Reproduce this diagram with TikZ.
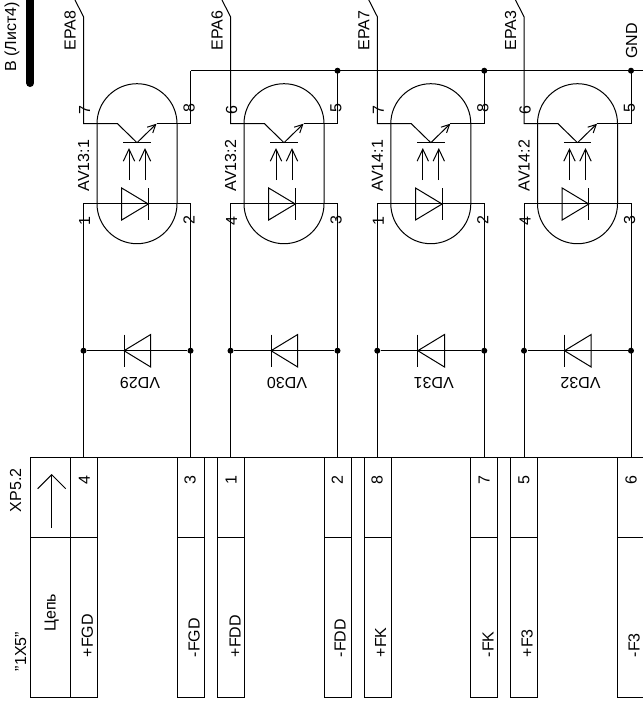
\documentclass[tikz,border=0pt]{standalone}
\usepackage{fontspec}
\setmainfont{Liberation Sans}
\usetikzlibrary{arrows.meta}
\tikzset{
    wire/.style={line width=0.75pt},
    junction/.style={circle,fill=black,inner sep=0pt,minimum size=4.5pt},
    txt/.style={inner sep=0pt,font=\fontsize{12}{12}\selectfont},
    vtxt/.style={txt,rotate=90},
    vlabel/.style={vtxt,anchor=west},
    lighttip/.style={-{Straight Barb[length=9pt,width=8.5pt,line width=0.75pt]}},
    emittip/.style={-{Straight Barb[length=6pt,width=6pt,line width=0.75pt]}}
}
\begin{document}
\begin{tikzpicture}[x=0.75pt,y=-0.75pt,wire]
            \useasboundingbox (0,0) rectangle (643,704);
            \clip (0,0) rectangle (643,704);
            \foreach \u/\xl/\av/\epa/\pa/\pb/\pc/\pd/\vd in {1/83.5/AV13:1/EPA8/7/8/1/2/VD29,2/230.5/AV13:2/EPA6/6/5/4/3/VD30,3/377.3/AV14:1/EPA7/7/8/1/2/VD31,4/524/AV14:2/EPA3/6/5/4/3/VD32}{
                \begin{scope}[shift={(\xl,0)}]
                    \coordinate (col\u) at (0,123.7);
                    \coordinate (emi\u) at (107,123.7);
                    \coordinate (an\u) at (0,203.7);
                    \coordinate (cat\u) at (107,203.7);
                    \coordinate (in\u) at (0,457.3);
                    \coordinate (out\u) at (107,457.3);
                    \coordinate (bus\u) at (107,70.7);
                    \coordinate (top\u) at (0,16.7);
                    \coordinate (end\u) at (-8.5,0);
                    \node[junction](vda\u) at (0,350.7){};
                    \node[junction](vdb\u) at (107,350.7){};
                    \draw (13.5,123.7) arc (180:360:40) -- (93.5,203.7) arc (0:180:40) -- cycle;
                    \draw (end\u) -- (top\u) -- (col\u) -- (34,123.7) -- (53.5,142.7);
                    \draw[emittip] (53.5,142.7) -- (73,123.7);
                    \draw (73,123.7) -- (emi\u) -- (bus\u);
                    \draw (39.8,142.7) -- (67.2,142.7);
                    \draw[lighttip] (45.5,180) -- (45.5,148);
                    \draw[lighttip] (61.5,180) -- (61.5,148);
                    \draw (in\u) -- (an\u) -- (cat\u) -- (out\u);
                    \draw (38.2,188) -- (64.8,204) -- (38.2,220) -- cycle;
                    \draw (64.8,188) -- (64.8,220);
                    \draw (vda\u) -- (vdb\u);
                    \draw (40.5,334.5) -- (40.5,367);
                    \draw (40.5,350.7) -- (67.2,334.5) -- (67.2,367) -- cycle;
                    \node[vlabel](epa\u) at (-13.5,50.7){\epa};
                    \node[vlabel](av\u) at (0,191.7){\av};
                    \node[vtxt](pa\u) at (1,110){\pa};
                    \node[vtxt](pb\u) at (105.5,108){\pb};
                    \node[vtxt](pc\u) at (1,221){\pc};
                    \node[vtxt](pd\u) at (105.5,220){\pd};
                    \node[txt,rotate=180](vd\u) at (56.5,382.7){\vd};
                \end{scope}
            }
            \draw (bus1) -- (643,70.7);
            \foreach \u in {2,3,4}{
                \node[junction](dot\u) at (bus\u){};
            }
            \node[vlabel](gnd) at (631.7,59){GND};
            \draw[line width=6pt,line cap=round] (30.3,-5) -- (30.3,83);
            \node[vlabel](sheet) at (12,72){В (Лист4)};
            \draw (30.5,457.3) -- (643,457.3);
            \draw (30.5,457.3) -- (30.5,697.7) -- (70.5,697.7);
            \draw (30.5,537.7) -- (70.5,537.7);
            \draw[-{Straight Barb[length=10.5pt,width=21pt,line width=0.75pt]}] (51.7,527.7) -- (51.7,474);
            \node[vlabel](xp) at (15.7,512.7){XP5.2};
            \node[vlabel](socket) at (20.7,671.7){"1X5"};
            \node[vlabel](chain) at (51.7,632){Цепь};
            \foreach \cx/\xp/\pin/\sig/\xs in {70.5/84.3/4/+FGD/87.3,177/190/3/-FGD/194,217/231/1/+FDD/235,324/337.3/2/-FDD/340,364/377/8/+FK/380.7,470.7/484/7/-FK/488,510.7/524/5/+F3/527,617.5/631/6/-F3/634}{
                \draw (\cx,457.3) -- (\cx,697.7) -- (\cx+27,697.7) -- (\cx+27,457.3);
                \draw (\cx,537.7) -- (\cx+27,537.7);
                \node[vtxt](pin\pin) at (\xp,480){\pin};
                \node[vlabel](sig\pin) at (\xs,657.7){\sig};
            }
\end{tikzpicture}
\end{document}
